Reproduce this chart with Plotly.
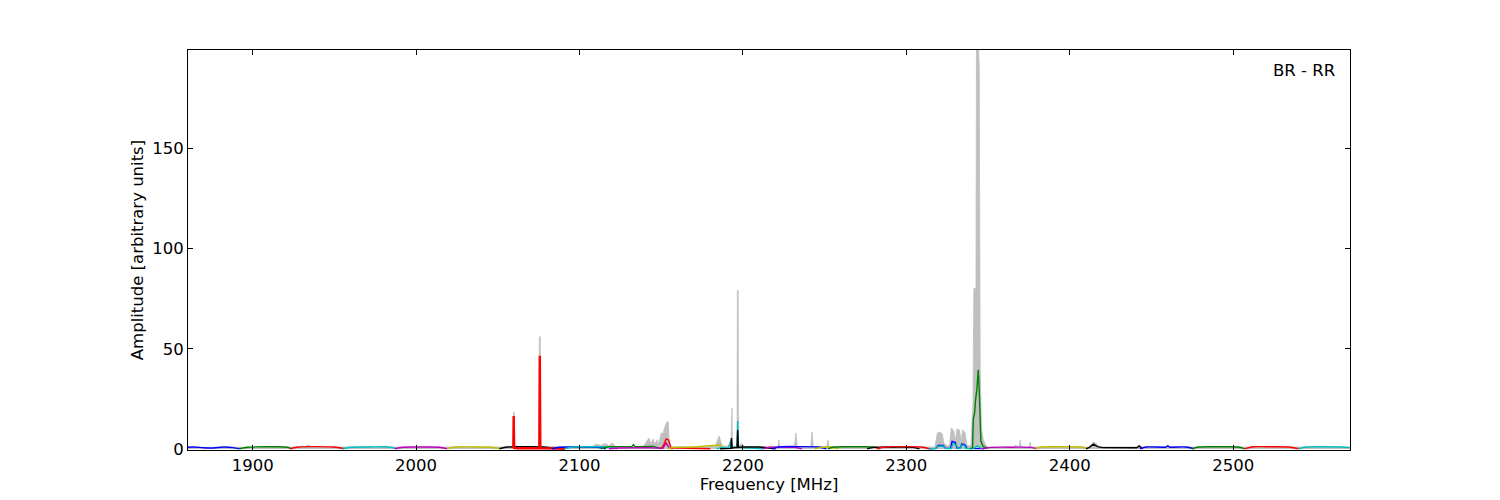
import plotly.graph_objects as go

# ---------------- data ----------------
X_RANGE = [1860.4, 2571.5]
Y_RANGE = [-0.5, 199.0]
X_TICKS = [1900, 2000, 2100, 2200, 2300, 2400, 2500]
Y_TICKS = [0, 50, 100, 150]
LABEL = "BR - RR"

# grey envelope (max amplitude)
GRAY_F = [1860.4, 1932, 1934, 1936, 2057.5, 2059.4, 2059.6, 2060.0, 2060.2, 2075.2, 2075.4, 2076.0, 2076.2,
          2108, 2110, 2113, 2116, 2118, 2120, 2122, 2139, 2141, 2142.5, 2143.5, 2145, 2146, 2147.5, 2148.5,
          2150, 2151, 2152, 2153.5, 2154.3, 2155, 2156, 2183, 2185.4, 2186.5, 2187.5, 2192.6, 2192.9, 2193.3,
          2193.6, 2196.4, 2196.6, 2197.1, 2197.3, 2199, 2201, 2221.5, 2222, 2222.5, 2231.5, 2232.4, 2233.2,
          2241.5, 2242.3, 2243, 2251.3, 2252, 2252.7, 2317.5, 2319, 2320.5, 2322, 2323, 2325, 2326.5, 2327.5,
          2329, 2330, 2331, 2332.5, 2333.5, 2334.5, 2336, 2337, 2339.5, 2340.8, 2341.3, 2342.6, 2342.9, 2344.2,
          2344.6, 2345.2, 2346, 2347, 2348.5, 2350, 2366, 2367, 2368, 2369.2, 2369.7, 2370.2, 2375.3, 2375.8,
          2376.3, 2412, 2414.5, 2416.5, 2418, 2442, 2442.5, 2443, 2571.5]
GRAY_A = [0.8, 1.0, 2.0, 1.0, 1.0, 1.0, 18.5, 18.5, 1.0, 1.0, 56, 56, 1.2,
          1.2, 2.5, 1.8, 2.8, 1.5, 3.0, 1.2, 1.2, 3.5, 5.5, 2.5, 5.0, 2.5, 4.5, 2.5,
          8, 7.5, 10.5, 13.5, 13.5, 2, 1.0, 1.2, 6.5, 3.5, 1.5, 1.5, 20.4, 20.4,
          1.5, 1.5, 79, 79, 1.5, 2.8, 1.2, 1.2, 4.5, 1.2, 1.2, 8, 1.2,
          1.2, 8.5, 1.2, 1.2, 4.5, 1.2, 1.0, 8, 8.5, 7.5, 3, 1.5, 2, 10.5,
          9, 4, 10, 9.5, 4, 9.5, 8, 2, 1.5, 24, 80, 80, 199, 199,
          190, 40, 10, 5, 2, 1.0, 1.0, 2, 1, 1, 4.5, 1, 1, 3.5,
          1, 1.0, 3.5, 2.5, 1.0, 1.0, 2, 1.0, 1.0]

# sub-band curves (colour, frequencies, amplitudes)
SUB_COLORS = ["#0000ff", "#008000", "#ff0000", "#00bfbf", "#bf00bf", "#bfbf00", "#000000",
              "#ff0000", "#0000ff", "#00bfbf", "#008000", "#bf00bf", "#ff0000", "#bfbf00",
              "#00bfbf", "#000000", "#bf00bf", "#0000ff", "#bfbf00", "#008000", "#000000",
              "#ff0000", "#0000ff", "#00bfbf", "#008000", "#bf00bf", "#bfbf00", "#000000",
              "#0000ff", "#008000", "#ff0000", "#00bfbf"]
SUB_F = [
    [1860.4, 1864, 1870, 1876, 1882, 1888, 1892],
    [1892, 1897, 1910, 1920, 1924],
    [1923, 1928, 1940, 1951, 1956],
    [1955, 1960, 1972, 1983, 1988],
    [1987, 1992, 2003, 2014, 2019],
    [2019, 2024, 2035, 2046, 2051],
    [2051, 2056, 2066, 2078, 2084],
    [2059.5, 2059.7, 2060.0, 2062, 2075.4, 2075.7, 2076.0, 2089, 2091],
    [2083, 2088, 2100, 2111, 2116],
    [2091, 2096, 2108, 2118, 2123],
    [2113, 2118, 2130, 2132, 2133, 2134, 2145, 2150],
    [2118, 2124, 2140, 2148, 2151, 2153, 2155, 2157],
    [2150, 2151.5, 2153, 2154.5, 2156, 2170, 2180],
    [2154, 2158, 2170, 2182, 2186, 2188],
    [2184, 2187, 2191, 2192.8, 2193.1, 2193.4, 2196.4, 2196.8, 2197.1, 2199, 2205, 2212],
    [2186, 2190, 2192.6, 2193.0, 2193.4, 2196.4, 2196.8, 2197.2, 2200, 2210, 2216, 2220],
    [2212, 2216, 2225, 2232, 2236],
    [2218, 2222, 2234, 2246, 2251],
    [2244, 2248, 2254, 2258],
    [2252, 2256, 2268, 2280, 2284],
    [2276, 2280, 2292, 2304, 2308],
    [2282, 2287, 2298, 2309, 2314],
    [2314, 2318, 2319.5, 2322.5, 2324, 2327, 2328, 2330, 2331, 2333, 2334, 2336, 2337, 2346],
    [2314, 2318, 2319.5, 2322.5, 2324, 2327.5, 2328.5, 2330.5, 2331.5, 2333, 2334, 2335.5, 2336.5,
     2341, 2343, 2344.5, 2346, 2348],
    [2339, 2340.5, 2341.0, 2341.8, 2342.3, 2343.2, 2344.0, 2344.6, 2345.6, 2347, 2350],
    [2346, 2352, 2365, 2376, 2380],
    [2379, 2383, 2395, 2407, 2411],
    [2410, 2412, 2414.5, 2417, 2420, 2430, 2441, 2442.5, 2443.5, 2444.5],
    [2443, 2447, 2459, 2460, 2461, 2471, 2476],
    [2475, 2479, 2491, 2503, 2507],
    [2507, 2512, 2524, 2535, 2540],
    [2540, 2545, 2556, 2566, 2571.5],
]
SUB_A = [
    [0.9, 1.0, 0.6, 0.5, 1.0, 0.7, 0.1],
    [0.1, 0.9, 1.1, 1.0, 0.1],
    [0.1, 1.0, 1.2, 0.9, 0.1],
    [0.1, 0.9, 1.0, 1.0, 0.1],
    [0.1, 0.9, 1.0, 0.9, 0.1],
    [0.1, 1.0, 1.0, 0.9, 0.1],
    [0.1, 1.0, 1.1, 1.0, 0.2],
    [0.5, 16.5, 0.5, 0.4, 0.4, 46.5, 0.4, 0.4, 0.1],
    [0.1, 0.9, 1.0, 0.9, 0.1],
    [0.1, 1.0, 1.1, 1.0, 0.1],
    [0.1, 1.2, 1.2, 1.2, 2.2, 1.2, 1.3, 0.2],
    [0.1, 0.5, 0.7, 0.7, 0.4, 3.0, 0.4, 0.1],
    [0.2, 2.0, 5.0, 4.5, 0.6, 0.5, 0.1],
    [0.1, 0.9, 1.0, 1.5, 2.0, 0.1],
    [0.1, 0.8, 0.5, 4.5, 0.6, 0.6, 1.0, 14, 1.0, 0.6, 0.5, 0.1],
    [0.1, 0.3, 0.3, 5.5, 0.5, 0.8, 9.5, 0.8, 1.0, 1.0, 0.6, 0.1],
    [0.1, 0.8, 1.0, 0.8, 0.1],
    [0.1, 1.0, 1.2, 1.0, 0.1],
    [0.1, 0.8, 0.9, 0.1],
    [0.1, 1.0, 1.1, 1.0, 0.1],
    [0.1, 0.8, 0.9, 0.8, 0.1],
    [0.1, 1.0, 1.2, 1.0, 0.1],
    [0.1, 0.3, 1.8, 1.8, 0.3, 0.3, 3.8, 3.2, 0.4, 0.4, 2.5, 2.0, 0.3, 0.2],
    [0.1, 0.2, 1.4, 1.4, 0.2, 0.2, 2.6, 2.2, 0.2, 0.2, 2.0, 1.8, 0.2, 0.2, 1.5, 1.2, 0.2, 0.1],
    [0.2, 0.5, 15, 18, 24, 30, 39.5, 30, 4, 1.2, 0.4],
    [0.1, 0.8, 0.9, 0.8, 0.1],
    [0.1, 1.0, 1.1, 1.0, 0.1],
    [0.1, 0.8, 2.4, 1.2, 0.7, 0.6, 0.6, 1.5, 0.5, 0.1],
    [0.1, 1.0, 1.0, 1.6, 1.0, 1.0, 0.1],
    [0.1, 1.0, 1.1, 1.0, 0.1],
    [0.1, 1.1, 1.1, 0.9, 0.1],
    [0.1, 1.0, 1.1, 1.0, 0.7],
]

# ---------------- figure ----------------
fig = go.Figure()
fig.add_trace(go.Scatter(x=GRAY_F, y=GRAY_A, mode="lines", fill="tozeroy",
                         fillcolor="#bfbfbf", line=dict(color="#bfbfbf", width=0.8),
                         hoverinfo="skip", showlegend=False))
for col, fx, ay in zip(SUB_COLORS, SUB_F, SUB_A):
    smooth = len(fx) <= 7 and max(ay) < 1.7
    width = 2.4 if max(ay) > 40 else 1.4
    fig.add_trace(go.Scatter(x=fx, y=ay, mode="lines",
                             line=dict(color=col, width=width,
                                       shape="spline" if smooth else "linear",
                                       smoothing=0.8 if smooth else None),
                             showlegend=False))

font = dict(family="DejaVu Sans", size=16.5, color="black")
fig.update_layout(
    width=1500, height=500,
    margin=dict(l=188, r=150, t=50, b=50),
    plot_bgcolor="white", paper_bgcolor="white",
    font=font,
    xaxis=dict(range=X_RANGE, tickvals=X_TICKS, ticks="inside", ticklen=5, tickcolor="black",
               showline=True, linecolor="black", linewidth=1, mirror="ticks", showgrid=False,
               zeroline=False, tickfont=font, automargin=False,
               title=dict(text="Frequency [MHz]", font=font, standoff=3)),
    yaxis=dict(range=Y_RANGE, tickvals=Y_TICKS, ticks="inside", ticklen=5, tickcolor="black",
               showline=True, linecolor="black", linewidth=1, mirror="ticks", showgrid=False,
               zeroline=False, tickfont=font, automargin=False,
               title=dict(text="Amplitude [arbitrary units]", font=font, standoff=4)),
    annotations=[dict(text=LABEL, xref="paper", yref="paper", x=0.9888, y=0.95,
                      xanchor="right", yanchor="middle", showarrow=False, font=font)],
)
fig.write_html("out.html", config={"displayModeBar": False},
               post_script="document.body.style.margin='0';")
